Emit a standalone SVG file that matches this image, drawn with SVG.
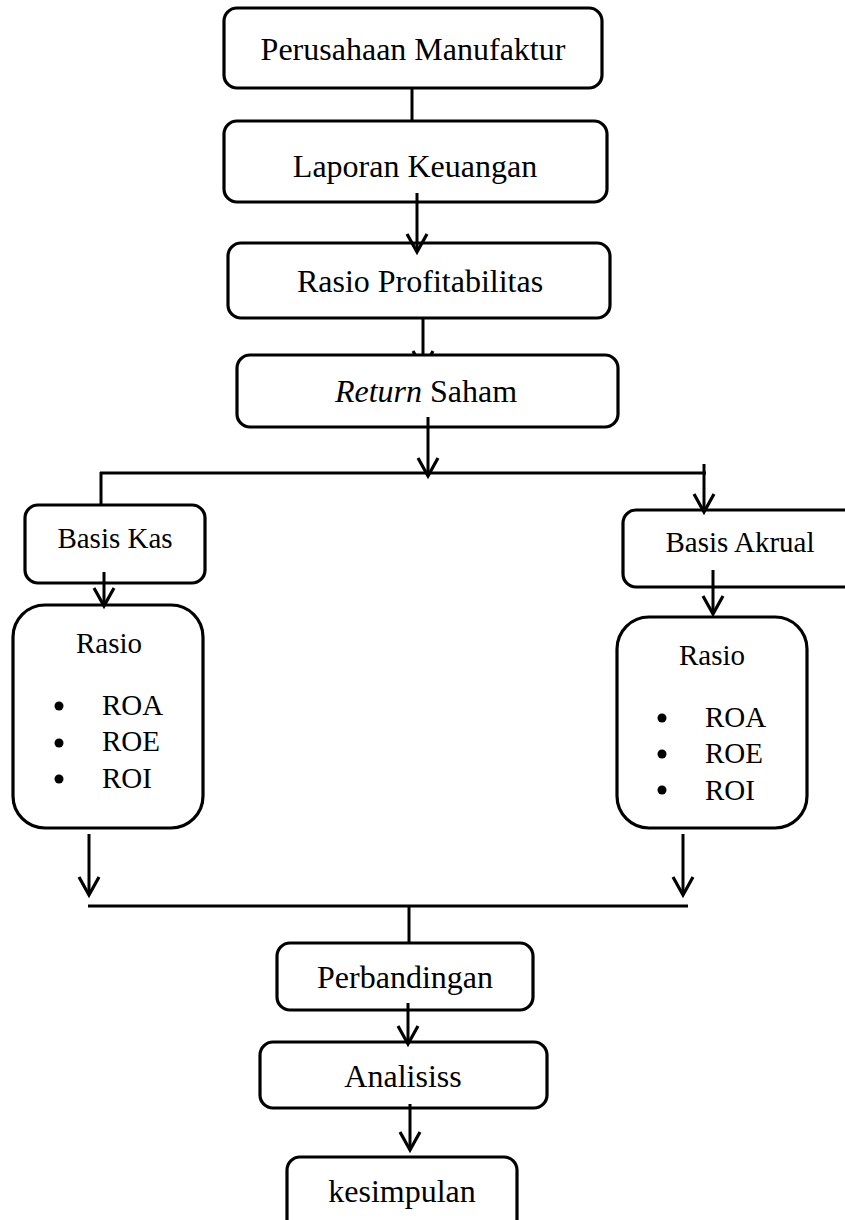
<svg xmlns="http://www.w3.org/2000/svg" width="845" height="1220" viewBox="0 0 845 1220">
<style>
.box{fill:#fff;stroke:#000;stroke-width:3.2}
.ln{fill:none;stroke:#000;stroke-width:3}
.t{font-family:"Liberation Serif","Times New Roman",serif;font-size:32px;fill:#000;text-anchor:middle}
.s{font-family:"Liberation Serif","Times New Roman",serif;font-size:29px;fill:#000}
</style>
<defs>
<marker id="ah" markerUnits="userSpaceOnUse" markerWidth="30" markerHeight="30" viewBox="-22 -15 30 30" refX="0" refY="0" orient="auto">
<path d="M-18,-10 L0,0 L-18,10" fill="none" stroke="#000" stroke-width="3.2"/>
</marker>
</defs>
<g id="connectors-under">
<line class="ln" x1="423" y1="312" x2="423" y2="369" marker-end="url(#ah)"/>
</g>
<g id="n1"><rect class="box" x="224" y="8" width="378" height="80" rx="13"/><text class="t" x="413" y="60">Perusahaan Manufaktur</text></g>
<g id="n2"><rect class="box" x="224" y="121" width="383" height="81" rx="13"/><text class="t" x="415" y="177">Laporan Keuangan</text></g>
<g id="n3"><rect class="box" x="228" y="243" width="382" height="75" rx="13"/><text class="t" x="420" y="292">Rasio Profitabilitas</text></g>
<g id="n4"><rect class="box" x="237" y="355" width="381" height="72" rx="13"/><text class="t" x="426" y="402"><tspan font-style="italic">Return</tspan> Saham</text></g>
<g id="n5"><rect class="box" x="25" y="505" width="180" height="78" rx="13"/><text class="s" x="115" y="548" text-anchor="middle">Basis Kas</text></g>
<g id="n6"><rect class="box" x="623" y="510" width="235" height="77" rx="13"/><text class="s" x="740" y="552" text-anchor="middle">Basis Akrual</text></g>
<g id="n7"><rect class="box" x="13" y="605" width="190" height="223" rx="32"/>
<text class="s" x="109" y="653" text-anchor="middle">Rasio</text>
<circle cx="59" cy="706" r="4.5"/><circle cx="59" cy="743" r="4.5"/><circle cx="59" cy="779" r="4.5"/>
<text class="s" x="102" y="715">ROA</text><text class="s" x="102" y="751">ROE</text><text class="s" x="102" y="788">ROI</text></g>
<g id="n8"><rect class="box" x="617" y="617" width="190" height="211" rx="32"/>
<text class="s" x="712" y="665" text-anchor="middle">Rasio</text>
<circle cx="662" cy="718" r="4.5"/><circle cx="662" cy="754" r="4.5"/><circle cx="662" cy="790" r="4.5"/>
<text class="s" x="705" y="727">ROA</text><text class="s" x="705" y="763">ROE</text><text class="s" x="705" y="800">ROI</text></g>
<g id="n9"><rect class="box" x="277" y="943" width="256" height="67" rx="13"/><text class="t" x="405" y="988">Perbandingan</text></g>
<g id="n10"><rect class="box" x="260" y="1042" width="287" height="66" rx="13"/><text class="t" x="403" y="1087">Analisiss</text></g>
<g id="n11"><rect class="box" x="287" y="1157" width="230" height="80" rx="13"/><text class="t" x="402" y="1202">kesimpulan</text></g>
<g id="connectors">
<line class="ln" x1="412" y1="88" x2="412" y2="120"/>
<line class="ln" x1="417" y1="193" x2="417" y2="252" marker-end="url(#ah)"/>
<line class="ln" x1="428" y1="417" x2="428" y2="476" marker-end="url(#ah)"/>
<line class="ln" x1="100" y1="473" x2="706" y2="473"/>
<line class="ln" x1="101" y1="472" x2="101" y2="506"/>
<line class="ln" x1="704" y1="464" x2="704" y2="512" marker-end="url(#ah)"/>
<line class="ln" x1="104" y1="572" x2="104" y2="606" marker-end="url(#ah)"/>
<line class="ln" x1="713" y1="570" x2="713" y2="614" marker-end="url(#ah)"/>
<line class="ln" x1="89" y1="834" x2="89" y2="895" marker-end="url(#ah)"/>
<line class="ln" x1="683" y1="834" x2="683" y2="895" marker-end="url(#ah)"/>
<line class="ln" x1="88" y1="906" x2="688" y2="906"/>
<line class="ln" x1="409" y1="907" x2="409" y2="944"/>
<line class="ln" x1="408" y1="1003" x2="408" y2="1044" marker-end="url(#ah)"/>
<line class="ln" x1="410" y1="1104" x2="410" y2="1150" marker-end="url(#ah)"/>
</g>
</svg>
